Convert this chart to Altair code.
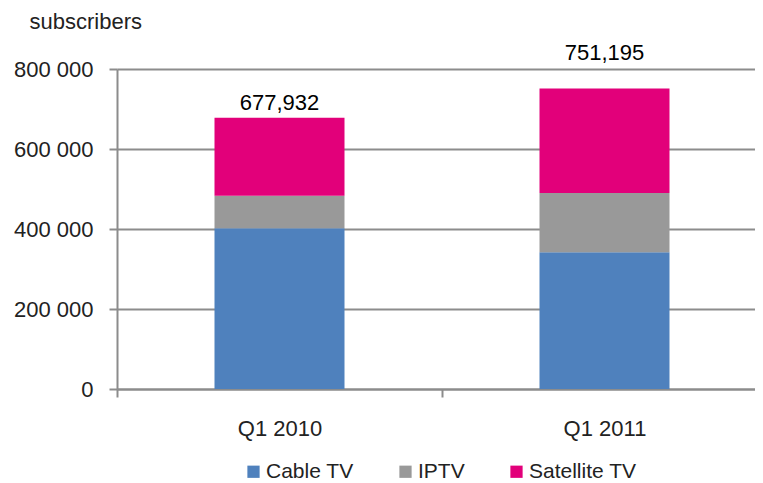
import altair as alt
import pandas as pd

quarters = ["Q1 2010", "Q1 2011"]
series = ["Cable TV", "IPTV", "Satellite TV"]
cable = [402000, 342000]
iptv = [81000, 148000]
satellite = [194932, 261195]
totals = [677932, 751195]
total_labels = ["677,932", "751,195"]
colors = ["#4F81BD", "#999999", "#E2007A"]

rows = []
for i, q in enumerate(quarters):
    for s, vals in zip(series, [cable, iptv, satellite]):
        rows.append({"quarter": q, "series": s, "value": vals[i], "order": series.index(s)})
df = pd.DataFrame(rows)
tot = pd.DataFrame({"quarter": quarters, "total": totals, "label": total_labels})

FONT = "Liberation Sans"
GRID = "#8c8c8c"

x_enc = alt.X("quarter:N", sort=quarters,
              scale=alt.Scale(range=[0, 650], paddingInner=0, paddingOuter=0),
              axis=alt.Axis(title=None, tickBand="extent", labelAngle=0, labelFontSize=22,
                            labelFont=FONT, labelColor="#222222", labelPadding=21,
                            tickSize=8, tickColor=GRID, tickWidth=2,
                            domainColor=GRID, domainWidth=2, grid=False))

bars = alt.Chart(df).mark_bar(width=alt.RelativeBandSize(0.4)).encode(
    x=x_enc,
    y=alt.Y("value:Q", stack="zero",
            scale=alt.Scale(domain=[0, 800000], nice=False),
            axis=alt.Axis(values=[0, 200000, 400000, 600000, 800000],
                          labelExpr="replace(format(datum.value, ','), ',', ' ')",
                          title="subscribers", titleAngle=0, titleX=-88, titleY=-41,
                          titleAlign="left", titleBaseline="alphabetic",
                          titleFont=FONT, titleFontSize=22, titleFontWeight="normal",
                          titleColor="#222222",
                          labelFont=FONT, labelFontSize=22, labelColor="#222222",
                          labelPadding=16, tickSize=8, tickColor=GRID, tickWidth=2,
                          domainColor=GRID, domainWidth=2,
                          gridColor=GRID, gridWidth=2)),
    color=alt.Color("series:N", sort=series,
                    scale=alt.Scale(domain=series, range=colors),
                    legend=alt.Legend(title=None, orient="none", direction="horizontal",
                                      legendX=126, legendY=392, symbolType="square",
                                      symbolSize=150, symbolStrokeWidth=0,
                                      labelFont=FONT, labelFontSize=21,
                                      labelColor="#222222", labelOffset=2,
                                      columnPadding=41)),
    order=alt.Order("order:Q"),
)

lab1 = alt.Chart(tot).transform_filter(alt.datum.quarter == quarters[0]).mark_text(
    font=FONT, fontSize=22, color="#000000", baseline="alphabetic", dy=-8
).encode(x=alt.X("quarter:N", sort=quarters), y=alt.Y("total:Q"), text="label:N")

lab2 = alt.Chart(tot).transform_filter(alt.datum.quarter == quarters[1]).mark_text(
    font=FONT, fontSize=22, color="#000000", baseline="alphabetic", dy=-29
).encode(x=alt.X("quarter:N", sort=quarters), y=alt.Y("total:Q"), text="label:N")

chart = alt.layer(bars, lab1, lab2).properties(
    width=638, height=320,
    autosize=alt.AutoSizeParams(type="none"),
    padding={"left": 109, "top": 61, "right": 0, "bottom": 94},
).configure_view(stroke=None)

chart.save("out.html", embed_options={"renderer": "svg", "actions": False})
